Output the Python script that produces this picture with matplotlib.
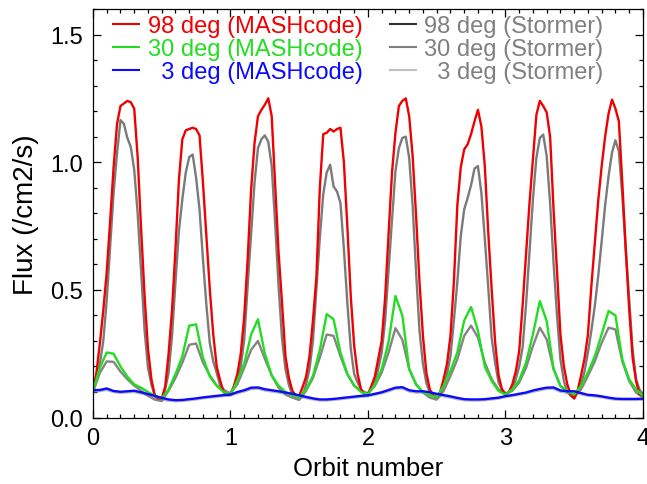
"""
Flux vs orbit number: MASHcode against Stormer cutoff, for 98, 30 and 3 deg orbits.
"""

import numpy as np
import matplotlib
matplotlib.use("Agg")
import matplotlib.pyplot as plt
from matplotlib.lines import Line2D
from matplotlib.ticker import MultipleLocator, FormatStrFormatter

plt.rcParams["font.family"] = ["Liberation Sans", "DejaVu Sans"]


# Orbit samples: every 0.05 orbit for the low curves, 0.025 for the 98 deg ones
orbit = np.round(np.arange(0, 4.001, 0.05), 3)
orbit_fine = np.round(np.arange(0, 4.0001, 0.025), 3)

# 98 deg, MASHcode (red)  -- on orbit_fine
mash_98 = [0.105, 0.175, 0.29, 0.42, 0.57, 0.77, 0.98, 1.15, 1.22, 1.23,
           1.24, 1.235, 1.21, 1.02, 0.74, 0.48, 0.27, 0.15, 0.085, 0.075,
           0.075, 0.12, 0.25, 0.42, 0.66, 0.93, 1.09, 1.125, 1.13, 1.135,
           1.13, 1.105, 0.92, 0.71, 0.50, 0.325, 0.20, 0.145, 0.10, 0.088,
           0.09, 0.124, 0.17, 0.25, 0.395, 0.62, 0.89, 1.075, 1.18, 1.205,
           1.225, 1.25, 1.18, 0.91, 0.645, 0.45, 0.24, 0.155, 0.105, 0.087,
           0.085, 0.12, 0.16, 0.24, 0.38, 0.55, 0.90, 1.11, 1.115, 1.13,
           1.12, 1.13, 1.135, 1.00, 0.75, 0.475, 0.28, 0.17, 0.11, 0.09,
           0.09, 0.124, 0.16, 0.23, 0.30, 0.47, 0.72, 0.96, 1.115, 1.22,
           1.24, 1.25, 1.18, 1.025, 0.79, 0.53, 0.32, 0.175, 0.11, 0.087,
           0.08, 0.10, 0.15, 0.21, 0.32, 0.53, 0.83, 0.98, 1.05, 1.07,
           1.11, 1.16, 1.205, 1.14, 0.985, 0.725, 0.50, 0.295, 0.165, 0.11,
           0.09, 0.10, 0.13, 0.18, 0.26, 0.44, 0.64, 0.84, 1.01, 1.185,
           1.24, 1.22, 1.195, 1.10, 0.815, 0.575, 0.325, 0.20, 0.13, 0.09,
           0.075, 0.105, 0.165, 0.23, 0.325, 0.515, 0.685, 0.85, 0.985, 1.10,
           1.19, 1.245, 1.21, 1.16, 0.92, 0.66, 0.425, 0.235, 0.143, 0.09,
           0.085]

# 98 deg, Stormer  -- on orbit_fine
storm_98 = [0.10, 0.155, 0.21, 0.30, 0.46, 0.67, 0.88, 1.035, 1.165, 1.15,
            1.095, 1.06, 0.97, 0.80, 0.575, 0.345, 0.195, 0.13, 0.085, 0.072,
            0.065, 0.11, 0.175, 0.32, 0.53, 0.73, 0.855, 0.96, 1.02, 1.03,
            0.94, 0.815, 0.62, 0.44, 0.29, 0.22, 0.175, 0.125, 0.11, 0.10,
            0.095, 0.117, 0.145, 0.20, 0.305, 0.515, 0.715, 0.92, 1.055, 1.09,
            1.105, 1.08, 0.985, 0.76, 0.515, 0.31, 0.19, 0.127, 0.09, 0.074,
            0.07, 0.085, 0.13, 0.19, 0.30, 0.50, 0.705, 0.875, 0.96, 0.99,
            0.905, 0.885, 0.84, 0.66, 0.45, 0.27, 0.17, 0.137, 0.11, 0.098,
            0.095, 0.11, 0.137, 0.19, 0.255, 0.38, 0.58, 0.775, 0.965, 1.055,
            1.095, 1.10, 1.017, 0.83, 0.57, 0.34, 0.21, 0.135, 0.098, 0.085,
            0.075, 0.085, 0.11, 0.17, 0.24, 0.38, 0.53, 0.71, 0.815, 0.86,
            0.91, 0.975, 0.985, 0.88, 0.70, 0.51, 0.31, 0.215, 0.137, 0.11,
            0.095, 0.098, 0.11, 0.15, 0.20, 0.275, 0.443, 0.65, 0.855, 1.017,
            1.095, 1.108, 1.024, 0.84, 0.606, 0.40, 0.228, 0.143, 0.10, 0.085,
            0.075, 0.098, 0.13, 0.18, 0.255, 0.34, 0.437, 0.555, 0.69, 0.83,
            0.945, 1.037, 1.086, 1.043, 0.867, 0.66, 0.463, 0.267, 0.15, 0.11,
            0.09]

# 30 deg, MASHcode (green)
mash_30 = [0.105, 0.195, 0.255, 0.25, 0.20, 0.16, 0.13, 0.117, 0.10, 0.085,
           0.075, 0.11, 0.17, 0.24, 0.36, 0.365, 0.235, 0.16, 0.125, 0.10,
           0.09, 0.145, 0.21, 0.325, 0.385, 0.25, 0.165, 0.125, 0.10, 0.087,
           0.08, 0.11, 0.163, 0.265, 0.405, 0.385, 0.255, 0.17, 0.125, 0.10,
           0.09, 0.13, 0.19, 0.296, 0.476, 0.40, 0.19, 0.13, 0.10, 0.087,
           0.08, 0.124, 0.183, 0.255, 0.38, 0.433, 0.34, 0.20, 0.143, 0.104,
           0.09, 0.11, 0.147, 0.215, 0.326, 0.456, 0.378, 0.19, 0.124, 0.104,
           0.09, 0.124, 0.176, 0.24, 0.326, 0.417, 0.40, 0.228, 0.15, 0.11,
           0.085]

# 3 deg, MASHcode (blue)
mash_3 = [0.107, 0.108, 0.114, 0.104, 0.101, 0.103, 0.105, 0.099, 0.092, 0.085,
          0.077, 0.071, 0.068, 0.069, 0.072, 0.075, 0.079, 0.082, 0.085, 0.088,
          0.09, 0.10, 0.107, 0.117, 0.118, 0.111, 0.107, 0.103, 0.098, 0.093,
          0.087, 0.081, 0.075, 0.071, 0.071, 0.073, 0.076, 0.079, 0.082, 0.085,
          0.087, 0.093, 0.099, 0.108, 0.117, 0.119, 0.107, 0.103, 0.103, 0.099,
          0.093, 0.088, 0.083, 0.077, 0.072, 0.071, 0.071, 0.072, 0.075, 0.078,
          0.084, 0.088, 0.093, 0.098, 0.106, 0.112, 0.117, 0.118, 0.106, 0.103,
          0.103, 0.096, 0.089, 0.087, 0.083, 0.078, 0.074, 0.073, 0.073, 0.073,
          0.074]

# 30 deg, Stormer
storm_30 = [0.10, 0.175, 0.22, 0.218, 0.18, 0.15, 0.125, 0.105, 0.085, 0.07,
            0.065, 0.105, 0.155, 0.215, 0.285, 0.29, 0.215, 0.165, 0.125, 0.105,
            0.095, 0.13, 0.195, 0.265, 0.30, 0.23, 0.165, 0.117, 0.09, 0.078,
            0.07, 0.105, 0.155, 0.235, 0.325, 0.32, 0.24, 0.17, 0.125, 0.105,
            0.095, 0.124, 0.176, 0.255, 0.35, 0.305, 0.19, 0.13, 0.098, 0.078,
            0.07, 0.104, 0.163, 0.228, 0.32, 0.36, 0.313, 0.215, 0.15, 0.11,
            0.095, 0.104, 0.137, 0.195, 0.28, 0.352, 0.306, 0.19, 0.124, 0.098,
            0.085, 0.11, 0.163, 0.22, 0.293, 0.352, 0.345, 0.22, 0.143, 0.098,
            0.08]

# 3 deg, Stormer
storm_3 = [0.103, 0.104, 0.108, 0.100, 0.097, 0.099, 0.100, 0.094, 0.087, 0.079,
           0.071, 0.066, 0.064, 0.065, 0.068, 0.071, 0.075, 0.078, 0.081, 0.084,
           0.086, 0.095, 0.102, 0.111, 0.113, 0.106, 0.102, 0.098, 0.093, 0.088,
           0.082, 0.076, 0.071, 0.067, 0.067, 0.069, 0.072, 0.075, 0.078, 0.081,
           0.083, 0.089, 0.095, 0.103, 0.112, 0.114, 0.102, 0.098, 0.098, 0.094,
           0.088, 0.083, 0.078, 0.072, 0.068, 0.067, 0.067, 0.068, 0.071, 0.074,
           0.080, 0.084, 0.089, 0.094, 0.101, 0.107, 0.112, 0.113, 0.101, 0.098,
           0.098, 0.091, 0.085, 0.083, 0.079, 0.074, 0.070, 0.069, 0.069, 0.069,
           0.070]

labels = ["98 deg (MASHcode)", "30 deg (MASHcode)", "  3 deg (MASHcode)",
          "98 deg (Stormer)", "30 deg (Stormer)", "  3 deg (Stormer)"]

RED, GREEN, BLUE = "#f00000", "#22dd22", "#0a0aff"
legend_line_colors = [RED, GREEN, BLUE, "#333333", "#808080", "#c0c0c0"]
legend_text_colors = [RED, GREEN, BLUE, "#808080", "#808080", "#808080"]


# Plot
fig = plt.figure(figsize=(6.47, 4.85), dpi=100)
ax = fig.add_axes([0.1437, 0.137, 0.85, 0.8424])

lw = 1.7
ax.plot(orbit, storm_3, color="#b8b8b8", lw=lw)
ax.plot(orbit_fine, storm_98, color="#7a7a7a", lw=lw)
ax.plot(orbit, storm_30, color="#858585", lw=lw)
ax.plot(orbit_fine, mash_98, color=RED, lw=lw)
ax.plot(orbit, mash_30, color=GREEN, lw=lw)
ax.plot(orbit, mash_3, color=BLUE, lw=lw)

ax.set_xlim(0, 4)
ax.set_ylim(0, 1.6)

ax.xaxis.set_major_locator(MultipleLocator(1))
ax.xaxis.set_minor_locator(MultipleLocator(0.1))
ax.yaxis.set_major_locator(MultipleLocator(0.5))
ax.yaxis.set_minor_locator(MultipleLocator(0.1))
ax.yaxis.set_major_formatter(FormatStrFormatter("%.1f"))

ax.tick_params(which="both", direction="in", top=True, right=True,
               labelsize=17, pad=7, width=0.9)
ax.tick_params(which="major", length=6)
ax.tick_params(which="minor", length=3.2)
for sp in ax.spines.values():
    sp.set_linewidth(0.9)

ax.set_xlabel("Orbit number", fontsize=18.5, labelpad=5)
ax.set_ylabel("Flux (/cm2/s)", fontsize=20, labelpad=8)

# Legend: coloured labels, two columns
handles = [Line2D([], [], color=c, lw=1.5) for c in legend_line_colors]
ax.legend(handles, labels, ncol=2, loc="upper left",
          bbox_to_anchor=(0.037, 0.985), frameon=False, fontsize=17,
          handlelength=1.1, handletextpad=0.35, columnspacing=1.15,
          labelspacing=0.05, borderpad=0, borderaxespad=0,
          labelcolor=legend_text_colors)

fig.savefig("out.png", dpi=100)
